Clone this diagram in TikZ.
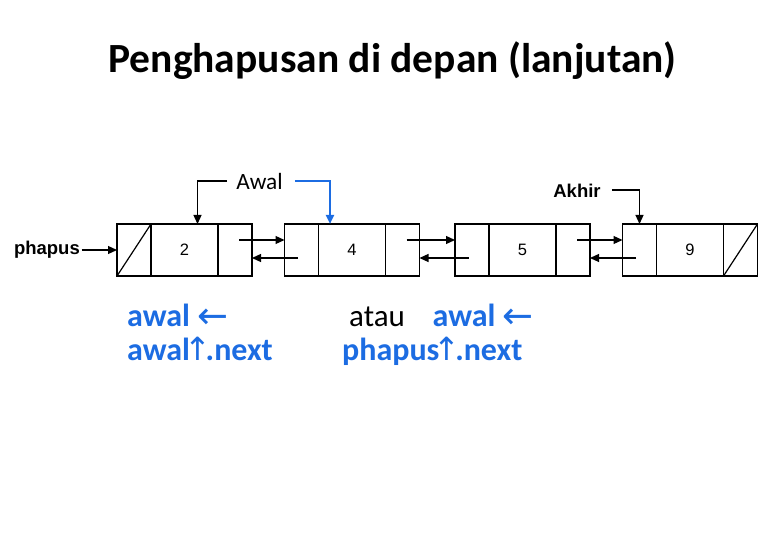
\documentclass[tikz,border=0pt]{standalone}
\usepackage{fontspec}
\setmainfont{Carlito}
\newfontfamily\arialf{Liberation Sans}
\newfontfamily\symf{DejaVu Sans}
\usetikzlibrary{arrows.meta}
\definecolor{bluetxt}{RGB}{28,108,226}
\newcommand{\larr}{{\symf\mdseries\fontsize{37}{37}\selectfont\raisebox{-1.5pt}{←}}}
\newcommand{\uarr}{{\symf\mdseries\kern-5.5pt↑\kern-5.5pt}}
\tikzset{
  cell/.style={draw, line width=1.2pt, minimum height=52pt, inner sep=0pt, outer sep=0pt, font=\arialf\fontsize{16.5}{18}\selectfont},
  ptr/.style={line width=1.2pt, -{Triangle[length=9pt,width=8pt]}},
  bptr/.style={line width=2.6pt, draw=bluetxt, -{Triangle[length=9pt,width=8pt]}, color=bluetxt},
  lbl/.style={font=\arialf\bfseries\fontsize{18.5}{20}\selectfont, inner sep=0pt},
  code/.style={font=\bfseries\fontsize{32}{34}\selectfont, text=bluetxt, inner sep=0pt, anchor=base west},
}
\begin{document}
\begin{tikzpicture}[x=1pt,y=-1pt]
\useasboundingbox (0,0) rectangle (780,540);
% title
\node[font=\bfseries\fontsize{41.5}{44}\selectfont, anchor=base, inner sep=0pt] (title) at (392.5,73) {Penghapusan di depan (lanjutan)};
% list nodes
\foreach \i/\L/\v in {1/117/2, 2/284.5/4, 3/455/5, 4/622.5/9}{
  \node[cell, minimum width=34pt] (p\i) at (\L+17,250) {};
  \node[cell, minimum width=67pt] (d\i) at (\L+67.5,250) {\v};
  \node[cell, minimum width=34pt] (n\i) at (\L+118,250) {};
}
\draw[line width=1.2pt] (p1.south west) -- (p1.north east);
\draw[line width=1.2pt] (n4.south west) -- (n4.north east);
% links
\foreach \a/\b in {1/2, 2/3, 3/4}{
  \draw[ptr] ([xshift=4pt,yshift=10pt]n\a.center) -- ([yshift=10pt]p\b.west);
  \draw[ptr] ([xshift=-3.5pt,yshift=-8pt]p\b.center) -- ([yshift=-8pt]n\a.east);
}
% phapus
\node[lbl, anchor=east] (ph) at (80,250) {phapus};
\draw[ptr] ([xshift=1.5pt]ph.east) -- (p1.west);
% Awal
\node[font=\fontsize{23.3}{25}\selectfont, inner sep=0pt] (aw) at (259.5,181) {Awal};
\draw[ptr] ([xshift=-9pt]aw.west) -| ([xshift=13pt]d1.north);
\draw[bptr] ([xshift=12pt]aw.east) -| ([xshift=-22pt]d2.north);
% Akhir
\node[lbl] (ak) at (577,191) {Akhir};
\draw[ptr] ([xshift=11pt,yshift=1pt]ak.east) -| (p4.north);
% code
\node[code] (c1) at (127,327) {awal \larr};
\node[code] (c2) at (127,360) {awal\uarr.next};
\node[font=\fontsize{31}{33}\selectfont, inner sep=0pt, anchor=base west] (atau) at (349,327) {atau};
\node[code] (c3) at (432.5,327) {awal \larr};
\node[code] (c4) at (342,360) {phapus\uarr.next};
\end{tikzpicture}
\end{document}
